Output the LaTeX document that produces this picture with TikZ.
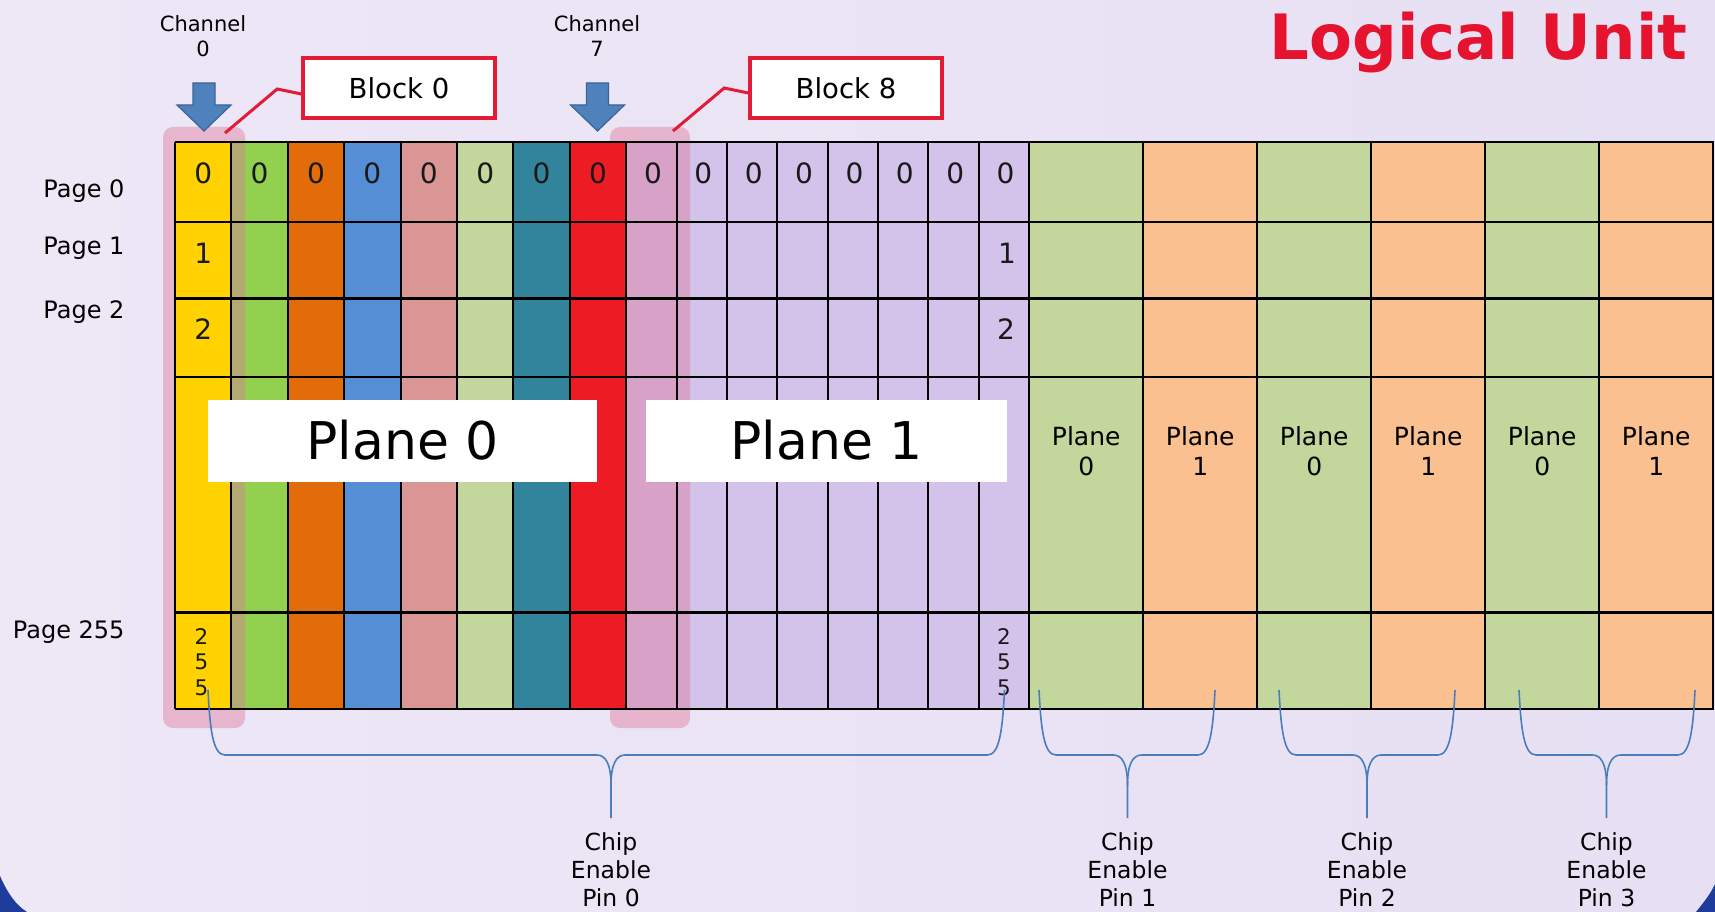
\documentclass[tikz,border=0pt]{standalone}
\usepackage{fontspec}
\setmainfont{DejaVu Sans}
\usetikzlibrary{positioning,shapes,arrows,calc}

\definecolor{bgleft}{HTML}{EDE7F6}
\definecolor{bgmid}{HTML}{D8CCED}
\definecolor{bgright}{HTML}{E7E0F4}
\definecolor{cornerblue}{HTML}{1E3C9A}
\definecolor{lav}{HTML}{D3C3EB}
\definecolor{hlpink}{HTML}{E07A9E}
\definecolor{arrowblue}{HTML}{4F81BD}
\definecolor{arrowedge}{HTML}{3A6497}
\definecolor{calloutred}{HTML}{E31B37}
\definecolor{titlered}{HTML}{E5132E}
\definecolor{braceblue}{HTML}{4A7EBB}
\definecolor{pgreen}{HTML}{C3D69B}
\definecolor{porange}{HTML}{FAC090}
\definecolor{cyellow}{HTML}{FFD200}
\definecolor{cgreen}{HTML}{92D050}
\definecolor{corange}{HTML}{E36C0A}
\definecolor{cblue}{HTML}{558ED5}
\definecolor{cpink}{HTML}{D99694}
\definecolor{cteal}{HTML}{31849B}
\definecolor{cred}{HTML}{ED1C24}

\begin{document}
\begin{tikzpicture}[
  x=1pt,y=-1pt,
  gridv/.style={line width=2pt,black},
  gridh/.style={line width=2.8pt,black},
  hilite/.style={fill=hlpink,fill opacity=0.45,rounded corners=10pt},
  digit/.style={font=\fontsize{28}{28}\selectfont,text=black!90},
  smalldigit/.style={font=\fontsize{21.5}{25.5}\selectfont,align=center,text=black!90},
  pagelbl/.style={font=\fontsize{24}{24}\selectfont,anchor=east},
  chanlbl/.style={font=\fontsize{21}{25}\selectfont,align=center},
  chanarrow/.style={fill=arrowblue,draw=arrowedge,line width=1.2pt,line join=miter},
  blockbox/.style={draw=calloutred,line width=3.5pt,fill=white,minimum width=192,minimum height=60,font=\fontsize{27.5}{27.5}\selectfont},
  callout/.style={draw=calloutred,line width=3pt},
  planebox/.style={fill=white,minimum height=82,font=\fontsize{52}{52}\selectfont},
  smallplane/.style={font=\fontsize{25}{30}\selectfont,align=center},
  celbl/.style={font=\fontsize{23.5}{28}\selectfont,align=center,anchor=north,inner sep=1pt},
  cebrace/.style={draw=braceblue,line width=1.6pt},
  title/.style={font=\fontsize{62.5}{62.5}\bfseries\selectfont,text=titlered,anchor=base east}
]
\useasboundingbox (0,0) rectangle (1715,912);
% slide background
\shade[left color=bgleft,middle color=bgmid,right color=bgright] (0,0) rectangle (1715,912);
\fill[cornerblue] (0,876) .. controls (8,894) and (16,905) .. (27,912) -- (0,912) -- cycle;
\fill[cornerblue] (1696,912) .. controls (1703,903) and (1710,895) .. (1715,884) -- (1715,912) -- cycle;

% columns
\foreach \c [count=\i from 1] in {cgreen,corange,cblue,cpink,pgreen,cteal}
  \fill[\c] (175+\i*56.4,142) rectangle ++(56.4,567);
\fill[lav] (626.2,142) rectangle (1029.2,709);
\foreach \c [count=\k from 0] in {pgreen,porange,pgreen,porange,pgreen,porange}
  \fill[\c] (1029.2+\k*114,142) rectangle ++(114,567);

% block highlights
\node[hilite,minimum width=82,minimum height=601,inner sep=0pt] (hl0) at (204,427.5) {};
\node[hilite,minimum width=80,minimum height=601,inner sep=0pt] (hl8) at (650,427.5) {};
\fill[cyellow] (175,142) rectangle (231.4,709);
\fill[cred] (569.8,142) rectangle (626.2,709);

% grid
\foreach \x in {0,...,8} \draw[gridv] (175+\x*56.4,142) -- ++(0,567);
\foreach \x in {1,...,8} \draw[gridv] (626.2+\x*50.375,142) -- ++(0,567);
\foreach \x in {1,...,6} \draw[gridv] (1029.2+\x*114,142) -- ++(0,567);
\foreach \y in {142,222,298.5,377,612.5,709} \draw[gridh] (175,\y) -- (1714,\y);

% page numbers
\foreach \i in {0,...,7} \node[digit] (za\i) at (203.2+\i*56.4,173) {0};
\foreach \j in {0,...,7} \node[digit] (zb\j) at (653+\j*50.375,173) {0};
\node[digit] (oa) at (203.2,253) {1};
\node[digit] (ob) at (1007,253) {1};
\node[digit] (ta) at (203.2,329) {2};
\node[digit] (tb) at (1006,329) {2};
\node[smalldigit] (fa) at (201.5,662) {2\\5\\5};
\node[smalldigit] (fb) at (1004,662) {2\\5\\5};

\node[pagelbl] (pg0) at (128,191) {Page 0};
\node[pagelbl] (pg1) at (128,248) {Page 1};
\node[pagelbl] (pg2) at (128,312) {Page 2};
\node[pagelbl] (pg255) at (128,632) {Page 255};

% planes
\node[planebox,minimum width=389] (plA) at (402.5,440.5) {Plane 0};
\node[planebox,minimum width=361] (plB) at (826.5,440.5) {Plane 1};
\foreach \p [count=\k from 0] in {0,1,0,1,0,1}
  \node[smallplane] (pp\k) at (1086.2+\k*114,451) {Plane\\\p};

% channels
\node[chanlbl] (ch0) at (203,36) {Channel\\0};
\node[chanlbl] (ch7) at (597,36) {Channel\\7};
\coordinate (ch0tip) at (204,131);
\coordinate (ch7tip) at (597.5,131);
\foreach \t in {ch0tip,ch7tip}
  \draw[chanarrow] (\t) -- ++(-27,-26) -- ++(16,0) -- ++(0,-22) -- ++(22,0) -- ++(0,22) -- ++(16,0) -- cycle;

% block callouts
\node[blockbox] (blk0) at (399,88) {Block 0};
\node[blockbox] (blk8) at (846,88) {Block 8};
\coordinate (hl0tip) at (225,133);
\coordinate (hl8tip) at (673,131);
\draw[callout] ([yshift=-6pt]blk0.west) -- ++(-24,-5) -- (hl0tip);
\draw[callout] ([yshift=-5pt]blk8.west) -- ++(-24,-5) -- (hl8tip);

% chip enable braces
\foreach \l/\r/\m/\n in {208/1004.5/611/0,1039/1215/1127.5/1,1279/1455/1367/2,1519/1695/1606.5/3}{
  \node[celbl] (ce\n) at (\m,831) {Chip\\Enable\\Pin \n};
  \draw[cebrace] (\l,690) .. controls (\l+2,730) and (\l+5,755) .. (\l+17,755) -- (\m-14,755)
    .. controls (\m-5,755) and (\m,765) .. (\m,785) -- ([yshift=13pt]ce\n.north);
  \draw[cebrace] (\r,690) .. controls (\r-2,730) and (\r-5,755) .. (\r-17,755) -- (\m+14,755)
    .. controls (\m+5,755) and (\m,765) .. (\m,785);
}

\node[title] (lu) at (1691,60) {Logical Unit};
\end{tikzpicture}
\end{document}
